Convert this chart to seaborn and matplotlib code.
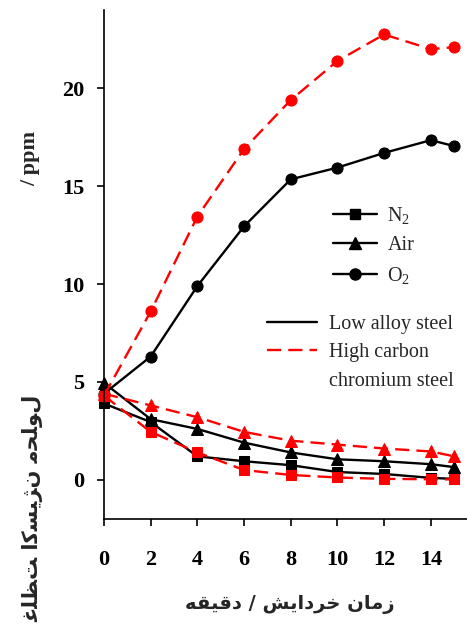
import matplotlib
matplotlib.use("Agg")
import matplotlib.pyplot as plt
from matplotlib.lines import Line2D
import seaborn as sns
import pandas as pd

# ---------------- data ----------------
time_min = [0, 2, 4, 6, 8, 10, 12, 14, 15]
low_n2 = [3.9, 2.95, 1.2, 0.95, 0.75, 0.4, 0.3, 0.1, 0.05]
low_air = [4.95, 3.1, 2.6, 1.9, 1.4, 1.05, 0.95, 0.8, 0.65]
low_o2 = [4.4, 6.3, 9.9, 12.95, 15.35, 15.95, 16.7, 17.35, 17.05]
hc_n2 = [4.3, 2.45, 1.4, 0.5, 0.25, 0.12, 0.05, 0.03, 0.02]
hc_air = [4.4, 3.8, 3.2, 2.45, 2.0, 1.8, 1.6, 1.45, 1.2]
hc_o2 = [4.3, 8.6, 13.45, 16.9, 19.4, 21.4, 22.75, 22.0, 22.1]

x_ticks = [0, 2, 4, 6, 8, 10, 12, 14]
y_ticks = [0, 5, 10, 15, 20]
gas_labels = ["N$_2$", "Air", "O$_2$"]
steel_labels = ["Low alloy steel", "High carbon", "chromium steel"]
xlabel_fa = "زمان خردایش / دقیقه"
ylabel_fa = "غلظت اکسیژن محلول"
ylabel_unit = "/ ppm"

# ---------------- simple Persian shaping ----------------
FORMS = {
    "\u0627": ("\uFE8D", "\uFE8E", None, None),
    "\u062A": ("\uFE95", "\uFE96", "\uFE97", "\uFE98"),
    "\u062D": ("\uFEA1", "\uFEA2", "\uFEA3", "\uFEA4"),
    "\u062E": ("\uFEA5", "\uFEA6", "\uFEA7", "\uFEA8"),
    "\u062F": ("\uFEA9", "\uFEAA", None, None),
    "\u0631": ("\uFEAD", "\uFEAE", None, None),
    "\u0632": ("\uFEAF", "\uFEB0", None, None),
    "\u0633": ("\uFEB1", "\uFEB2", "\uFEB3", "\uFEB4"),
    "\u0634": ("\uFEB5", "\uFEB6", "\uFEB7", "\uFEB8"),
    "\u0638": ("\uFEC5", "\uFEC6", "\uFEC7", "\uFEC8"),
    "\u063A": ("\uFECD", "\uFECE", "\uFECF", "\uFED0"),
    "\u0642": ("\uFED5", "\uFED6", "\uFED7", "\uFED8"),
    "\u0644": ("\uFEDD", "\uFEDE", "\uFEDF", "\uFEE0"),
    "\u0645": ("\uFEE1", "\uFEE2", "\uFEE3", "\uFEE4"),
    "\u0646": ("\uFEE5", "\uFEE6", "\uFEE7", "\uFEE8"),
    "\u0647": ("\uFEE9", "\uFEEA", "\uFEEB", "\uFEEC"),
    "\u0648": ("\uFEED", "\uFEEE", None, None),
    "\u06CC": ("\uFBFC", "\uFBFD", "\uFBFE", "\uFBFF"),
    "\u06A9": ("\uFB8E", "\uFB8F", "\uFB90", "\uFB91"),
    "\u0698": ("\uFB8A", "\uFB8B", None, None),
}


def shape(s):
    out = []
    for i, ch in enumerate(s):
        if ch not in FORMS:
            out.append(ch)
            continue
        f = FORMS[ch]
        prev = s[i - 1] if i > 0 else ""
        nxt = s[i + 1] if i + 1 < len(s) else ""
        join_prev = prev in FORMS and FORMS[prev][2] is not None
        join_next = f[2] is not None and nxt in FORMS
        if join_prev and join_next:
            out.append(f[3])
        elif join_prev:
            out.append(f[1])
        elif join_next:
            out.append(f[2])
        else:
            out.append(f[0])
    return "".join(out)


# ---------------- style ----------------
sns.set_style("ticks")
plt.rcParams["font.family"] = ["Liberation Serif", "DejaVu Sans"]
plt.rcParams["mathtext.fontset"] = "custom"
plt.rcParams["mathtext.rm"] = "Liberation Serif"
plt.rcParams["mathtext.it"] = "Liberation Serif"

fig = plt.figure(figsize=(4.67, 6.30), dpi=100)
W, H = 467, 630
ax = fig.add_axes([104 / W, 1 - 519 / H, (W - 104) / W, (519 - 10) / H])

LW = 1.7
DASH = (0, (6, 3))
series = [
    (low_n2, "black", "s", 7.0, "-"),
    (low_air, "black", "^", 8.0, "-"),
    (low_o2, "black", "o", 8.0, "-"),
    (hc_n2, "red", "s", 7.5, DASH),
    (hc_air, "red", "^", 8.0, DASH),
    (hc_o2, "red", "o", 8.0, DASH),
]
for vals, col, mk, ms, ls in series:
    df = pd.DataFrame({"t": time_min, "v": vals})
    sns.lineplot(data=df, x="t", y="v", ax=ax, color=col, marker=mk,
                 markersize=ms, markeredgecolor=col, markerfacecolor=col,
                 linewidth=LW, linestyle=ls, clip_on=False, legend=False)

ax.set_xlim(0, 15.55)
ax.set_ylim(-2, 24)
ax.set_xticks(x_ticks)
ax.set_yticks(y_ticks)
ax.set_xticklabels([str(t) for t in x_ticks], fontweight="bold", fontsize=16)
ax.set_yticklabels([str(t) for t in y_ticks], fontweight="bold", fontsize=16)
ax.tick_params(axis="x", direction="out", length=5, width=1.2, pad=17, colors="black")
ax.tick_params(axis="y", direction="out", length=5, width=1.2, pad=9, colors="black")
for side in ["top", "right"]:
    ax.spines[side].set_visible(False)
for side in ["left", "bottom"]:
    ax.spines[side].set_linewidth(1.2)
    ax.spines[side].set_color("black")
ax.set_xlabel("")
ax.set_ylabel("")

# legends
gas_handles = [
    Line2D([], [], color="black", marker="s", markersize=7, lw=LW),
    Line2D([], [], color="black", marker="^", markersize=8, lw=LW),
    Line2D([], [], color="black", marker="o", markersize=8, lw=LW),
]
leg1 = ax.legend(gas_handles, gas_labels, loc="upper left",
                 bbox_to_anchor=(333 / W, 1 - 205 / H), bbox_transform=fig.transFigure,
                 frameon=False, fontsize=14.5, handlelength=2.2, handletextpad=0.5,
                 labelspacing=0.5, borderpad=0, borderaxespad=0)
ax.add_artist(leg1)

steel_handles = [
    Line2D([], [], color="black", lw=LW),
    Line2D([], [], color="red", lw=LW, linestyle=DASH),
    Line2D([], [], color="none", lw=0),
]
leg2 = ax.legend(steel_handles, steel_labels, loc="upper left",
                 bbox_to_anchor=(267 / W, 1 - 315 / H), bbox_transform=fig.transFigure,
                 frameon=False, fontsize=14.5, handlelength=2.5, handletextpad=0.6,
                 labelspacing=0.46, borderpad=0, borderaxespad=0)

# axis labels
fig.text(290 / W, 1 - 605 / H, shape(xlabel_fa)[::-1], ha="center", va="center",
         fontsize=14, fontweight="bold", family=["DejaVu Sans"])
fig.text(33 / W, 1 - 395 / H, shape(ylabel_fa), ha="center", va="top", rotation=90,
         fontsize=15, fontweight="bold", family=["DejaVu Sans"])
fig.text(30 / W, 1 - 158 / H, ylabel_unit, ha="center", va="center", rotation=90,
         fontsize=16, fontweight="bold")

fig.savefig("out.png", dpi=100)
